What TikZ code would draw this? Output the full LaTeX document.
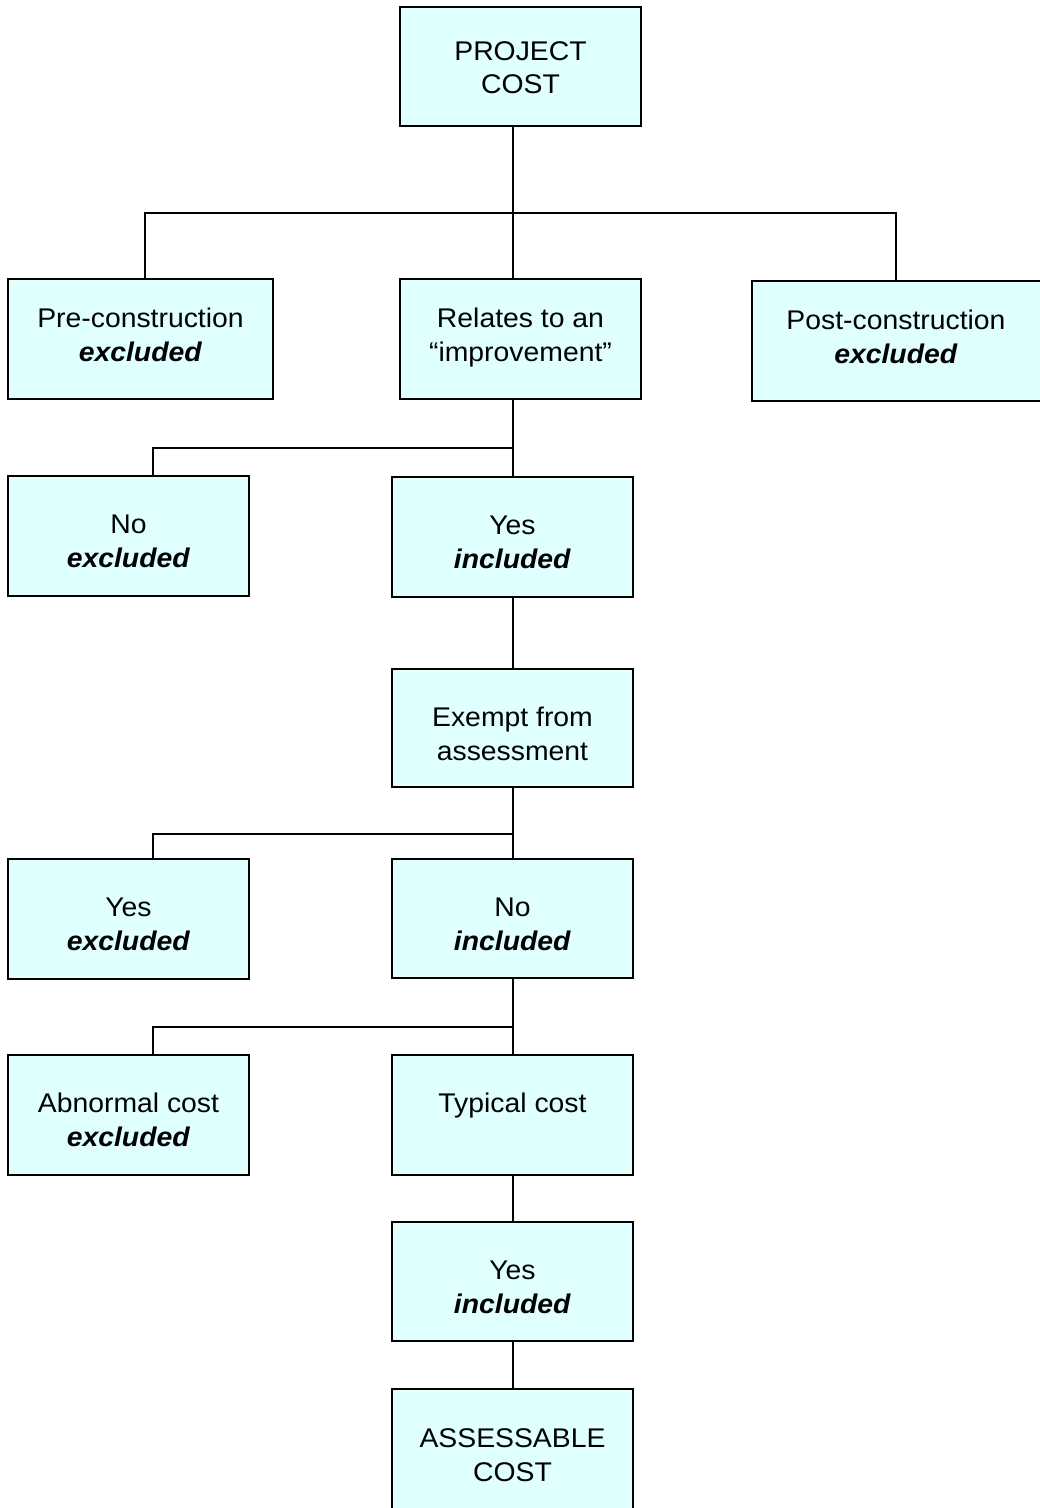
\documentclass[tikz,border=0pt]{standalone}
\usepackage{fontspec}
\setmainfont{Liberation Sans}[FakeStretch=1.05]
\definecolor{boxfill}{HTML}{E0FFFF}
\begin{document}
\begin{tikzpicture}[x=1pt,y=-1pt,
  box/.style={draw=black,line width=1.8pt,fill=boxfill,inner sep=0pt,outer sep=0pt,anchor=north west},
  conn/.style={line width=1.8pt},
  lbl/.style={anchor=base,align=center,font=\fontsize{27}{34}\selectfont,inner sep=0pt}]
\useasboundingbox (0,0) rectangle (1040,1508);
% boxes
\node[box,minimum width=241pt,minimum height=119pt] (pc) at (400,7) {};
\node[box,minimum width=265pt,minimum height=120pt] (pre) at (8,279) {};
\node[box,minimum width=241pt,minimum height=120pt] (rel) at (400,279) {};
\node[box,minimum width=292pt,minimum height=120pt] (post) at (752,281) {};
\node[box,minimum width=241pt,minimum height=120pt] (no1) at (8,476) {};
\node[box,minimum width=241pt,minimum height=120pt] (yes1) at (392,477) {};
\node[box,minimum width=241pt,minimum height=118pt] (ex) at (392,669) {};
\node[box,minimum width=241pt,minimum height=120pt] (yes2) at (8,859) {};
\node[box,minimum width=241pt,minimum height=119pt] (no2) at (392,859) {};
\node[box,minimum width=241pt,minimum height=120pt] (ab) at (8,1055) {};
\node[box,minimum width=241pt,minimum height=120pt] (typ) at (392,1055) {};
\node[box,minimum width=241pt,minimum height=119pt] (yes3) at (392,1222) {};
\node[box,minimum width=241pt,minimum height=125pt] (as) at (392,1389) {};
% labels (anchored at the baseline of the last line)
\node[lbl,font=\fontsize{27}{32.5}\selectfont] (pct) at (520.5,93) {PROJECT\\COST};
\node[lbl] (pret) at (140.5,361) {Pre-construction\\\textbf{\textit{excluded}}};
\node[lbl] (relt) at (520.5,361) {Relates to an\\“improvement”};
\node[lbl] (postt) at (896,363) {Post-construction\\\textbf{\textit{excluded}}};
\node[lbl] (no1t) at (128.5,567) {No\\\textbf{\textit{excluded}}};
\node[lbl] (yes1t) at (512.5,568) {Yes\\\textbf{\textit{included}}};
\node[lbl] (ext) at (512.5,760) {Exempt from\\assessment};
\node[lbl] (yes2t) at (128.5,950) {Yes\\\textbf{\textit{excluded}}};
\node[lbl] (no2t) at (512.5,950) {No\\\textbf{\textit{included}}};
\node[lbl] (abt) at (128.5,1146) {Abnormal cost\\\textbf{\textit{excluded}}};
\node[lbl] (typt) at (512.5,1112) {Typical cost};
\node[lbl] (yes3t) at (512.5,1313) {Yes\\\textbf{\textit{included}}};
\node[lbl] (ast) at (512.5,1481) {ASSESSABLE\\COST};
% junctions
\coordinate (j1) at (513,213);
\coordinate (l1) at (145,213);
\coordinate (r1) at (896,213);
\coordinate (j2) at (513,448);
\coordinate (l2) at (153,448);
\coordinate (j3) at (513,834);
\coordinate (l3) at (153,834);
\coordinate (j4) at (513,1027);
\coordinate (l4) at (153,1027);
% connectors
\draw[conn] (pc.south -| j1) -- (rel.north -| j1);
\draw[conn] (pre.north -| l1) -- (l1) -- (r1) -- (post.north -| r1);
\draw[conn] (rel.south -| j2) -- (yes1.north -| j2);
\draw[conn] (j2) -- (l2) -- (no1.north -| l2);
\draw[conn] (yes1.south -| j2) -- (ex.north -| j2);
\draw[conn] (ex.south -| j3) -- (no2.north -| j3);
\draw[conn] (j3) -- (l3) -- (yes2.north -| l3);
\draw[conn] (no2.south -| j4) -- (typ.north -| j4);
\draw[conn] (j4) -- (l4) -- (ab.north -| l4);
\draw[conn] (typ.south -| j4) -- (yes3.north -| j4);
\draw[conn] (yes3.south -| j4) -- (as.north -| j4);
\end{tikzpicture}
\end{document}
